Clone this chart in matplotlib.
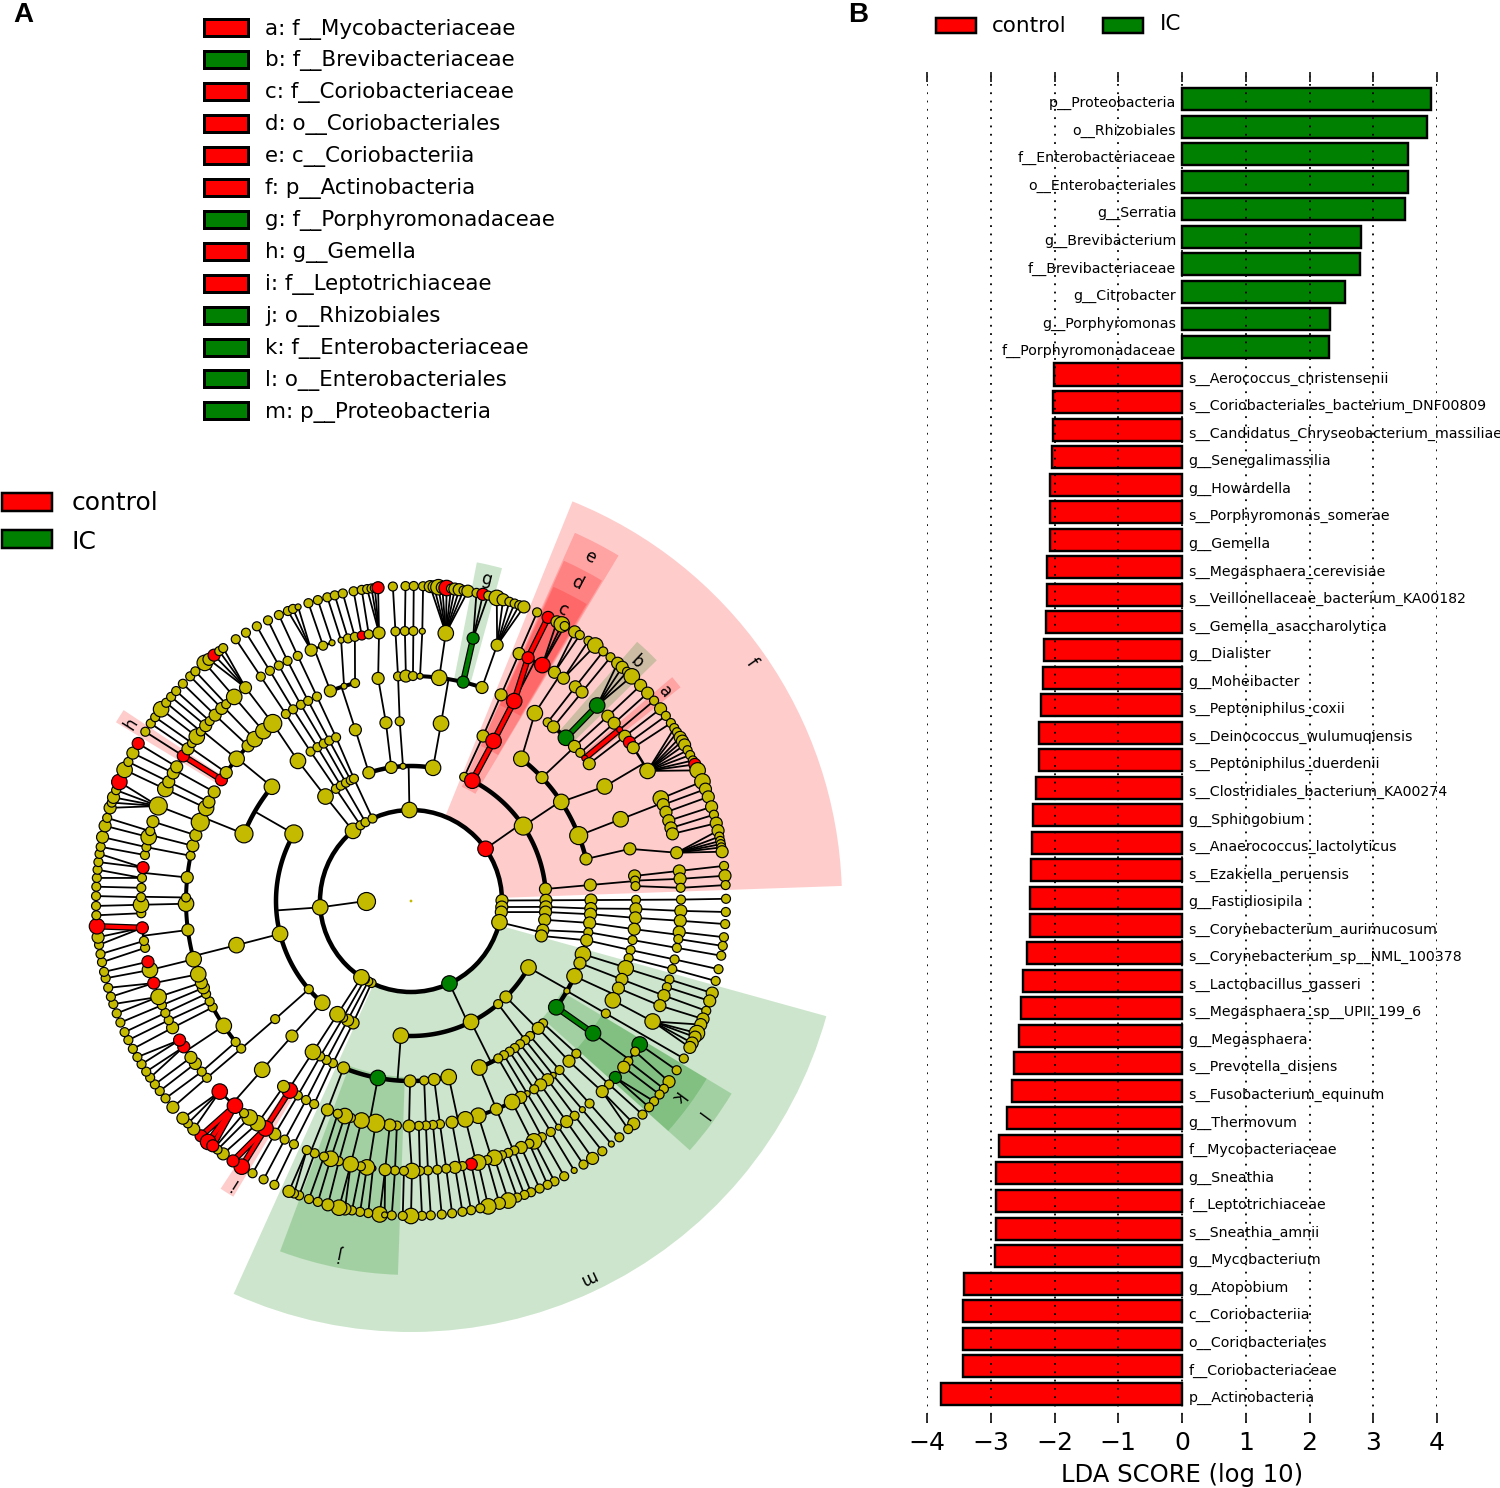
import numpy as np
import matplotlib
matplotlib.use("Agg")
import matplotlib.pyplot as plt
from matplotlib.patches import Wedge, Rectangle, Circle

RED = "#ff0000"
GREEN = "#008000"
OLIVE = "#c4ba00"

# ---- LDA bars, top to bottom
bar_names = ["p__Proteobacteria", "o__Rhizobiales", "f__Enterobacteriaceae", "o__Enterobacteriales", "g__Serratia",
             "g__Brevibacterium", "f__Brevibacteriaceae", "g__Citrobacter", "g__Porphyromonas", "f__Porphyromonadaceae",
             "s__Aerococcus_christensenii", "s__Coriobacteriales_bacterium_DNF00809",
             "s__Candidatus_Chryseobacterium_massiliae", "g__Senegalimassilia", "g__Howardella",
             "s__Porphyromonas_somerae", "g__Gemella", "s__Megasphaera_cerevisiae",
             "s__Veillonellaceae_bacterium_KA00182", "s__Gemella_asaccharolytica", "g__Dialister", "g__Moheibacter",
             "s__Peptoniphilus_coxii", "s__Deinococcus_wulumuqiensis", "s__Peptoniphilus_duerdenii",
             "s__Clostridiales_bacterium_KA00274", "g__Sphingobium", "s__Anaerococcus_lactolyticus",
             "s__Ezakiella_peruensis", "g__Fastidiosipila", "s__Corynebacterium_aurimucosum",
             "s__Corynebacterium_sp__NML_100378", "s__Lactobacillus_gasseri", "s__Megasphaera_sp__UPII_199_6",
             "g__Megasphaera", "s__Prevotella_disiens", "s__Fusobacterium_equinum", "g__Thermovum",
             "f__Mycobacteriaceae", "g__Sneathia", "f__Leptotrichiaceae", "s__Sneathia_amnii", "g__Mycobacterium",
             "g__Atopobium", "c__Coriobacteriia", "o__Coriobacteriales", "f__Coriobacteriaceae", "p__Actinobacteria"]
bar_scores = [3.91, 3.84, 3.55, 3.55, 3.50, 2.81, 2.79, 2.56, 2.32, 2.31,
              -2.01, -2.02, -2.02, -2.04, -2.07, -2.07, -2.07, -2.12, -2.12, -2.13,
              -2.16, -2.18, -2.21, -2.24, -2.24, -2.29, -2.34, -2.35, -2.37, -2.38,
              -2.38, -2.43, -2.49, -2.53, -2.56, -2.64, -2.67, -2.75, -2.87, -2.92,
              -2.92, -2.92, -2.93, -3.42, -3.44, -3.44, -3.44, -3.78]

# ---- cladogram key
key_names = ["a: f__Mycobacteriaceae", "b: f__Brevibacteriaceae", "c: f__Coriobacteriaceae", "d: o__Coriobacteriales",
             "e: c__Coriobacteriia", "f: p__Actinobacteria", "g: f__Porphyromonadaceae", "h: g__Gemella",
             "i: f__Leptotrichiaceae", "j: o__Rhizobiales", "k: f__Enterobacteriaceae", "l: o__Enterobacteriales",
             "m: p__Proteobacteria"]
key_groups = "rgrrrrgrrgggg"

# clade shading: letter, angle from, angle to, inner level radius, outer radius, letter radius, group
shades = [("f", 2, 68, 91, 431, 416, "r"), ("e", 59, 66, 125, 403, 388, "r"), ("d", 59.2, 65.8, 170, 373, 359, "r"),
          ("c", 59.4, 65.6, 215, 345, 329, "r"), ("b", 44.4, 48.9, 222, 344, 329, "g"), ("a", 38.4, 40.6, 222, 344, 329, "r"),
          ("g", 74.7, 79, 226, 345, 330, "g"), ("h", 146.4, 148.8, 224, 345, 331, "r"), ("i", 236.5, 239, 224, 345, 333, "r"),
          ("j", -110.5, -92, 176, 374, 359, "g"), ("k", -41.8, -31, 222, 345, 330, "g"), ("l", -41.8, -31, 176, 374, 360, "g"),
          ("m", -114.3, -15.5, 91, 431, 416, "g")]

# clade tree, depth first: (level, angle deg, abundance class[, group])
# level 1 phylum ... level 6 species; parent = last row with a lower level
# r/g enriched node, R/G same colour but not joined to its parent by a coloured branch
top_phylum = [
    (1, 91, 4),
    (2, 108.2, 3), (3, 108, 3),
    (4, 111, 3), (5, 111.7, 3), (6, 113, 2), (6, 112, 2), (6, 111, 1),
    (5, 109, 2), (6, 109, 2), (5, 107, 1), (6, 107.2, 2),
    (4, 107.3, 1), (5, 105, 1), (6, 105.4, 2), (5, 103.5, 2), (6, 104, 2),
    (4, 104.4, 2), (5, 102, 2), (6, 102.5, 2), (5, 100.5, 2, "r"), (6, 100.5, 2), (5, 99, 2), (6, 99, 2),
    (2, 98.4, 3), (3, 98, 3), (4, 98.4, 3), (5, 96.8, 3),
    (6, 98, 2), (6, 97.2, 2), (6, 96.6, 2), (6, 96, 3, "r"),
    (2, 93.4, 1), (3, 93.6, 2), (4, 93.3, 2), (5, 93.3, 2), (6, 93.3, 2),
    (2, 80.6, 4), (3, 80.4, 4),
    (4, 91.3, 3), (5, 91.3, 2), (6, 91, 2),
    (4, 89.5, 2), (5, 89.5, 2), (6, 89.5, 2),
    (4, 87.7, 1), (5, 87.6, 1), (6, 87.8, 2),
    (4, 82.8, 4), (5, 82.6, 4),
    (6, 86.5, 3), (6, 85.8, 3), (6, 85, 4), (6, 84.3, 3), (6, 83.5, 4, "r"), (6, 82.7, 2), (6, 82, 3), (6, 81.2, 3), (6, 80.4, 2), (6, 79.6, 3),
    (4, 76.6, 3, "g"), (5, 76.7, 3, "g"), (6, 78, 2), (6, 76.8, 3, "r"), (6, 75.8, 2),
    (4, 71.6, 3), (5, 71.4, 3),
    (6, 74.2, 4), (6, 73, 3), (6, 71.8, 2), (6, 70.8, 2), (6, 69.9, 2), (6, 69, 3),
]
actino_phylum = [
    (1, 35, 4, "R"),
    (2, 66.8, 2), (3, 66.4, 3), (4, 66.4, 3), (5, 66.4, 3), (6, 66.4, 2),
    (2, 63, 4, "r"), (3, 62.7, 4, "r"), (4, 62.7, 4, "r"),
    (5, 64.3, 3, "r"), (6, 64.2, 3, "r"),
    (5, 60.9, 4, "R"), (6, 62.4, 3), (6, 61.4, 4), (6, 60.8, 2),
    (2, 33.7, 5),
    (3, 52.2, 4), (4, 56.6, 4),
    (5, 57.9, 3), (6, 58.7, 3), (6, 57.6, 2),
    (5, 55.6, 3), (6, 55.7, 2), (6, 54.2, 4),
    (3, 43.3, 3),
    (4, 52.6, 2), (5, 52.5, 3), (6, 52.4, 2),
    (4, 50.7, 3), (5, 50.7, 3), (6, 50.7, 2),
    (4, 46.5, 4, "g"), (5, 46.4, 4, "g"), (6, 49, 3), (6, 47.9, 3), (6, 46.7, 2), (6, 45.5, 4),
    (4, 43.4, 3), (5, 43.2, 3), (6, 43.2, 3),
    (4, 41.2, 2), (5, 41.2, 3), (6, 41.3, 3),
    (4, 39.4, 1, "r"), (5, 39.4, 1, "r"), (6, 39.5, 2),
    (4, 37.6, 3), (5, 37.6, 3), (6, 37.6, 3),
    (3, 33.4, 4), (4, 30.6, 4),
    (5, 36, 3, "r"), (6, 36, 2),
    (5, 34.6, 3), (6, 34.4, 2),
    (5, 28.8, 4),
    (6, 33.3, 2), (6, 32.4, 2), (6, 31.3, 3), (6, 30.5, 3), (6, 29.7, 3), (6, 28.6, 2), (6, 27.6, 2), (6, 26.5, 2), (6, 25.7, 3, "r"), (6, 24.5, 4),
    (3, 21.3, 5), (4, 21.3, 4),
    (5, 22.3, 4), (6, 22.3, 4), (5, 20.9, 3), (6, 20.8, 3), (5, 19.2, 3), (6, 19.3, 3),
    (5, 17.3, 3), (6, 17.4, 3), (5, 15.7, 3), (6, 15.9, 2), (5, 14.4, 3), (6, 14.3, 3),
    (3, 13.5, 3), (4, 13.4, 3), (5, 10.3, 3),
    (6, 12.9, 3), (6, 11.8, 2), (6, 11, 2), (6, 10.4, 2), (6, 9.8, 2), (6, 9, 3),
    (2, 5.1, 3), (3, 5.1, 3),
    (4, 6.4, 3), (5, 6.4, 3), (6, 6.4, 2),
    (4, 5.2, 2), (5, 4.7, 3), (6, 4.6, 3),
    (4, 3.8, 2), (5, 2.8, 2), (6, 2.9, 2),
]
small_phyla = [
    (1, 0.3, 3), (2, 0.3, 3), (3, 0.3, 3), (4, 0.3, 2), (5, 0.3, 2), (6, 0.4, 2),
    (1, -3.8, 3), (2, -2.5, 3), (3, -2.4, 3), (4, -2, 3), (5, -2.1, 3), (6, -2, 2),
    (1, -7, 3), (2, -4.7, 3), (3, -4.2, 3), (4, -4.3, 3), (5, -4.2, 3), (6, -4.2, 2),
    (1, -13.5, 4),
    (2, -8, 3), (3, -7, 3), (4, -7.2, 3), (5, -6.6, 3), (6, -6.6, 2), (5, -8.1, 2), (6, -8.2, 2),
    (2, -12.5, 3), (3, -10, 2), (4, -10, 2), (5, -10, 2), (6, -10, 2),
    (2, -15, 3), (3, -12.6, 3), (4, -12.6, 2), (5, -12.5, 2), (6, -12.5, 2),
]
proteo_phylum = [
    (1, -65, 4, "g"),
    (2, -29.5, 4),
    (3, -17.2, 4),
    (4, -14.7, 2), (5, -14.6, 2), (6, -14.7, 2),
    (4, -17.4, 4), (5, -16.9, 2), (6, -17, 3), (5, -18.6, 2), (6, -18.5, 3),
    (3, -20.2, 3), (4, -20.4, 3), (5, -20.5, 3), (6, -20.4, 2),
    (3, -24.7, 4),
    (4, -22.8, 3), (5, -22.8, 3), (6, -22, 3),
    (4, -26.2, 4), (5, -26.5, 4), (6, -23.1, 3), (6, -24.8, 4), (6, -25.6, 3), (6, -26.8, 3), (6, -27.7, 3),
    (3, -30, 1), (4, -30, 2), (6, -30, 2),
    (3, -36.2, 4, "g"), (4, -36, 4, "g"),
    (5, -32.1, 4, "G"), (6, -32.5, 2),
    (5, -33.9, 2), (6, -35, 3),
    (5, -36.4, 2), (6, -36.6, 2),
    (5, -38, 3), (6, -37.9, 2),
    (5, -40.8, 3, "G"), (6, -39.5, 2), (6, -40.9, 2),
    (2, -45.3, 3),
    (3, -42.8, 2), (4, -42.7, 2), (5, -42.8, 2), (6, -42.7, 2),
    (3, -45, 3), (4, -45.4, 3), (5, -44.9, 3), (6, -45, 3), (6, -46.4, 2),
    (3, -48.6, 2), (4, -48.7, 2), (5, -48.6, 2), (6, -48.6, 2),
    (2, -49.8, 2),
    (3, -50.6, 2), (4, -50.8, 1), (5, -50.6, 1), (6, -50.5, 1),
    (3, -52.7, 2), (4, -52.6, 3), (5, -52.7, 2), (6, -52.6, 2),
    (3, -54.8, 2), (4, -54.8, 3), (5, -54.8, 3), (6, -54.8, 3),
    (3, -56.8, 2), (4, -56.8, 2), (5, -56.9, 1), (6, -56.8, 2),
    (3, -58.9, 2), (4, -58.9, 1), (5, -58.8, 2), (6, -58.8, 1),
    (2, -63.6, 4),
    (3, -61, 2), (4, -60.8, 3), (5, -61, 2), (6, -60.9, 2),
    (3, -67.7, 4),
    (4, -63.3, 4), (5, -62.9, 4), (6, -62.9, 2), (5, -64, 2), (6, -64.3, 2), (5, -65.9, 3), (6, -65.9, 2),
    (4, -67.7, 3), (5, -67.5, 2), (6, -67.6, 2), (5, -68.9, 2), (6, -68.9, 2), (5, -70.3, 2), (6, -70.3, 2),
    (4, -72.6, 4), (5, -72, 4), (6, -72, 4), (5, -73.6, 2), (6, -73.7, 3),
    (2, -94.3, 4),
    (3, -77.9, 4),
    (4, -76, 4), (5, -75.6, 4), (6, -75.8, 4), (5, -77.1, 3, "r"), (6, -77.3, 2),
    (4, -79.5, 3), (5, -79, 2), (6, -79, 2), (5, -80.6, 3), (6, -80.6, 2),
    (3, -82.6, 3),
    (4, -82.6, 2), (5, -82.5, 2), (6, -82.5, 2),
    (4, -84.4, 2), (5, -84.4, 2), (6, -84.4, 2),
    (3, -85.8, 2),
    (4, -86.2, 2), (5, -86.4, 2), (6, -86.4, 2),
    (4, -88, 2), (5, -88.1, 2), (6, -88, 2),
    (3, -90.3, 3), (4, -90.5, 3), (5, -89.8, 4), (6, -90, 4),
    (3, -100.6, 4, "g"),
    (4, -93.6, 2), (5, -91.5, 2), (6, -91.5, 2), (5, -93.4, 2), (6, -93.5, 2),
    (4, -95.4, 3), (5, -95.5, 3), (6, -95.7, 4), (6, -94.8, 1),
    (4, -99, 5), (5, -98.1, 1, "r"), (6, -97.8, 2), (5, -99.4, 4), (6, -99.3, 2), (5, -100.7, 2), (6, -100.8, 2),
    (4, -102.7, 4), (5, -102.9, 4), (6, -102.1, 3), (6, -103.2, 4),
    (4, -105.5, 2), (5, -105.5, 2), (6, -105.3, 3),
    (4, -107.1, 4), (5, -107.3, 4), (6, -107.2, 2),
    (4, -109, 2), (5, -108.8, 2), (6, -108.9, 2),
    (3, -112, 3), (4, -111.8, 3),
    (5, -110.9, 2), (6, -110.8, 2), (5, -112.7, 2), (6, -111.8, 2), (6, -112.8, 3),
]
low_left_phyla = [
    (1, 244.3, 2), (2, 244.6, 3), (3, 244.3, 2), (4, 244.5, 2), (5, 244.3, 2), (6, 244.3, 2),
    (1, 242, 2), (2, 242, 3), (3, 242, 2), (4, 242.2, 2), (5, 242.1, 2), (6, 242.1, 2),
    (1, 239.5, 2), (2, 239.8, 2), (3, 239.7, 2), (4, 239.8, 2), (5, 239.7, 3), (6, 239.8, 2),
    (1, 237, 4), (2, 237, 4), (3, 237, 4),
    (4, 237.4, 4, "r"), (5, 237.4, 4, "r"), (6, 237.5, 4, "r"), (6, 235.6, 3, "r"),
    (4, 235.5, 3), (5, 235.4, 4), (6, 233.4, 3), (5, 233.3, 4), (6, 232.1, 2), (5, 231.8, 2), (6, 231.5, 1),
]
left_phylum = [
    (1, 184, 4),
    (2, 228.9, 4), (3, 228.6, 3), (4, 228.6, 4),
    (5, 229.3, 4, "r"), (6, 228.2, 3, "r"), (6, 229.9, 4, "r"), (6, 231, 3, "r"),
    (5, 224.9, 4, "r"), (6, 226.4, 3), (6, 224.9, 2), (6, 223.6, 3),
    (2, 220.8, 2), (3, 221, 2), (4, 221, 2), (5, 220.9, 2), (6, 220.9, 3),
    (2, 194.1, 4), (3, 194.2, 4),
    (4, 218.8, 2), (5, 219.2, 2), (6, 218.8, 2),
    (4, 213.7, 4),
    (5, 217, 3), (6, 217.1, 2),
    (5, 215.4, 3), (6, 215.6, 2),
    (5, 212.7, 3, "r"), (6, 214.1, 2), (6, 212.8, 2),
    (5, 211, 3, "r"), (6, 211.2, 2), (6, 209.7, 2),
    (4, 208.2, 2), (5, 208, 3), (6, 208, 2),
    (4, 206.5, 2), (5, 206.2, 2), (6, 206.2, 2),
    (4, 204.4, 2), (5, 204.5, 2), (6, 204.6, 2),
    (4, 202.7, 3), (5, 202.7, 2), (6, 202.7, 2),
    (4, 201.3, 3), (5, 200.8, 4), (6, 200.9, 2), (6, 199.1, 2),
    (4, 199, 4), (5, 197.7, 3, "r"), (6, 197.7, 2), (6, 196, 2),
    (4, 195, 4), (5, 194.8, 4), (6, 194.2, 2), (5, 193, 3, "r"), (6, 193, 2),
    (4, 187.4, 3),
    (5, 190, 2), (6, 191.2, 2), (5, 188.5, 2), (6, 189.7, 2),
    (5, 185.7, 3, "r"), (6, 188, 2), (6, 186.6, 3), (6, 184.6, 4, "r"),
    (4, 180.7, 4), (5, 182.6, 2), (6, 182.6, 2), (5, 180.8, 4), (6, 180.9, 2),
    (4, 179.1, 2), (5, 179.2, 2), (6, 179.1, 2), (5, 177.2, 2), (6, 177.4, 2),
    (4, 174, 3), (5, 175.1, 2), (6, 175.8, 2), (6, 174.3, 2), (5, 172.9, 3, "r"), (6, 172.9, 2), (6, 171.4, 2),
    (4, 168.4, 2), (5, 170.2, 2), (6, 170.1, 2), (5, 168.5, 2), (6, 168.3, 3),
    (4, 165.8, 3), (5, 166.3, 4), (6, 166.2, 3), (5, 165, 2), (6, 164.7, 2),
    (4, 163, 3), (5, 162.9, 3),
    (2, 150.2, 5),
    (3, 158.1, 5),
    (4, 159.5, 5), (5, 159.4, 5), (6, 162.8, 3), (6, 161.8, 2), (6, 160.8, 3), (6, 159.4, 2), (6, 157.8, 4, "r"),
    (4, 155.6, 4), (5, 155.5, 4), (6, 155.4, 4),
    (4, 153.9, 3), (5, 153.8, 3), (6, 153.8, 2),
    (4, 151, 3), (5, 151.7, 3), (6, 152, 3), (5, 150.2, 3), (6, 150, 3, "r"),
    (3, 140.6, 4),
    (4, 147.4, 3, "r"), (5, 147.5, 3, "r"), (6, 147.5, 2),
    (4, 145.2, 3), (5, 145.7, 3), (6, 145.7, 2), (5, 144.2, 2), (6, 144.3, 2),
    (4, 140.8, 4), (5, 142.5, 4), (6, 142.5, 4), (5, 141.1, 2), (6, 141, 2), (5, 139.5, 3), (6, 139.6, 2), (5, 138.2, 2), (6, 138.2, 2),
    (4, 136.4, 3), (5, 136.5, 3), (6, 136.4, 2),
    (4, 134, 4), (5, 134.5, 3), (6, 134.5, 2), (5, 133.2, 2), (6, 133.2, 2),
    (4, 131, 4), (5, 130.9, 4), (6, 130.9, 4),
]
upper_left_phyla = [
    (1, 129.6, 4), (2, 129.3, 4), (3, 128.9, 4), (4, 127.9, 5), (5, 127.8, 3),
    (6, 129.9, 3), (6, 128.7, 3, "r"), (6, 127.5, 2), (6, 126.6, 2),
    (1, 123.7, 2), (2, 123.8, 2), (3, 123.9, 2), (4, 123.8, 2), (5, 123.8, 2), (6, 123.8, 2),
    (1, 120, 2),
    (2, 121.3, 2), (3, 121.3, 2), (4, 121.6, 2), (5, 121.5, 2), (6, 121.6, 2),
    (2, 118.8, 2), (3, 119, 2), (4, 119.3, 2), (5, 119.3, 2), (6, 119.3, 2),
    (1, 115, 2),
    (2, 116.5, 2), (3, 117, 2), (4, 117.2, 2), (5, 117.2, 2), (6, 117, 2),
    (2, 115, 2), (3, 114.6, 2), (4, 114.7, 2), (5, 114.8, 2), (6, 114.8, 2),
]
all_clades = [top_phylum, actino_phylum, small_phyla, proteo_phylum, low_left_phyla, left_phylum, upper_left_phyla]

level_r = {1: 91, 2: 135, 3: 180, 4: 225, 5: 270, 6: 315}
node_px = {1: 6, 2: 9, 3: 12, 4: 15.5, 5: 18}
arc_px = {2: 4.5, 3: 4.5, 4: 4, 5: 2.5}
group_col = {"r": RED, "R": RED, "g": GREEN, "G": GREEN, "y": OLIVE}

W, H = 1500, 1488
px = 0.72  # points per pixel at dpi 100


def xy(r, a):
    t = np.radians(a)
    return r * np.cos(t), r * np.sin(t)


fig = plt.figure(figsize=(W / 100, H / 100), dpi=100)

# cladogram axes, 1 unit = 1 pixel, origin at tree centre
cx, cy = 411, 901
ax = fig.add_axes([0, 0, 1, 1])
ax.set_xlim(-cx, W - cx)
ax.set_ylim(-(H - cy), cy)
ax.axis("off")

for name, a0, a1, r0, r1, rt, grp in shades:
    ax.add_patch(Wedge((0, 0), r1, a0, a1, width=r1 - r0, fc=group_col[grp], ec="none", alpha=0.2, zorder=1))
    tx, ty = xy(rt, (a0 + a1) / 2)
    ax.text(tx, ty, name, fontsize=12, rotation=(a0 + a1) / 2 - 90, ha="center", va="center", zorder=6)

ax.add_patch(Circle((0, 0), 91, fc="none", ec="k", lw=4.5 * px, zorder=3))
ax.plot(*zip(xy(45, 180), xy(91, 184)), color="k", lw=1.8 * px, zorder=3)

# flatten the rows, keep parent links
nodes = []
for rows in all_clades:
    stack = []
    for row in rows:
        lev, ang, ab = row[:3]
        grp = row[3] if len(row) > 3 else "y"
        while stack and nodes[stack[-1]]["lev"] >= lev:
            stack.pop()
        parent = stack[-1] if stack else None
        nodes.append({"lev": lev, "ang": ang, "ab": ab, "grp": grp, "par": parent, "kids": []})
        if parent is not None:
            nodes[parent]["kids"].append(len(nodes) - 1)
        stack.append(len(nodes) - 1)

for n in nodes:
    if not n["kids"]:
        continue
    rp = level_r[n["lev"]]
    start = xy(rp, n["ang"])
    inner = [nodes[k] for k in n["kids"] if nodes[k]["lev"] < 6 and nodes[k]["lev"] == n["lev"] + 1]
    for k in n["kids"]:
        c = nodes[k]
        end = xy(level_r[c["lev"]], c["ang"])
        if c["grp"] in "rg" and c["grp"] == n["grp"]:
            ax.plot(*zip(start, end), color="k", lw=6.5 * px, zorder=3.2, solid_capstyle="butt")
            ax.plot(*zip(start, end), color=group_col[c["grp"]], lw=4 * px, zorder=3.3, solid_capstyle="butt")
        elif c["lev"] == 6 or len(inner) < 2:
            ax.plot(*zip(start, end), color="k", lw=1.8 * px, zorder=3)
    if len(inner) >= 2:
        lev = inner[0]["lev"]
        angs = [c["ang"] for c in inner]
        lo, hi = min(angs), max(angs)
        t = np.linspace(lo, hi, 60)
        ax.plot(*xy(level_r[lev], t), color="k", lw=arc_px[lev] * px, zorder=3, solid_capstyle="butt")
        stem = min(max(n["ang"], lo), hi)
        ax.plot(*zip(start, xy(level_r[lev], stem)), color="k", lw=1.8 * px, zorder=3)

nx, ny = xy(np.array([level_r[n["lev"]] for n in nodes]), np.array([n["ang"] for n in nodes]))
ax.scatter(nx, ny, s=[(node_px[n["ab"]] * px) ** 2 for n in nodes], c=[group_col[n["grp"]] for n in nodes],
           edgecolors="k", linewidths=0.85, zorder=4)
kx, ky = xy(45, 180)
ax.scatter([kx], [ky], s=(18 * px) ** 2, c=OLIVE, edgecolors="k", linewidths=0.85, zorder=4)
ax.scatter([0], [0], s=4, c=OLIVE, edgecolors="none", zorder=4)

# legends and panel letters in pixel coordinates
lx = fig.add_axes([0, 0, 1, 1])
lx.set_xlim(0, W)
lx.set_ylim(H, 0)
lx.axis("off")
lx.patch.set_alpha(0)

for i, (name, grp) in enumerate(zip(key_names, key_groups)):
    y = 27 + 31.95 * i
    lx.add_patch(Rectangle((204, y - 8), 44, 17, fc=group_col[grp], ec="k", lw=3 * px))
    lx.text(265, y + 2, name, fontsize=15.4, va="center", ha="left")

for y, ty, grp, name in [(502, 503, "r", "control"), (539, 542, "g", "IC")]:
    lx.add_patch(Rectangle((2, y - 9), 50, 18, fc=group_col[grp], ec="k", lw=2.5 * px))
    lx.text(72, ty, name, fontsize=18, va="center", ha="left")

lx.add_patch(Rectangle((936, 18), 40, 15, fc=RED, ec="k", lw=2.5 * px))
lx.text(992, 26, "control", fontsize=15.5, va="center", ha="left")
lx.add_patch(Rectangle((1103, 18), 40, 15, fc=GREEN, ec="k", lw=2.5 * px))
lx.text(1160, 24, "IC", fontsize=15.5, va="center", ha="left")

lx.text(13, 15, "A", fontsize=20, fontweight="bold", family="Liberation Sans", va="center", ha="left")
lx.text(848, 15, "B", fontsize=20, fontweight="bold", family="Liberation Sans", va="center", ha="left")

# LDA bars
top_px, bot_px = 72, 1423
bx = fig.add_axes([927 / W, 1 - bot_px / H, (1437 - 927) / W, (bot_px - top_px) / H])
bx.patch.set_alpha(0)
ypos = np.arange(len(bar_scores))
cols = [GREEN if v > 0 else RED for v in bar_scores]
bx.barh(ypos, bar_scores, height=0.8, color=cols, edgecolor="k", linewidth=2.4 * px, zorder=2)
bx.set_xlim(-4, 4)
bx.set_ylim((1423 - 99) / 27.55, (72 - 99) / 27.55)
for s in bx.spines.values():
    s.set_visible(False)
bx.set_yticks([])
bx.set_xticks(np.arange(-4, 5))
bx.tick_params(axis="x", direction="in", top=True, length=7.5, width=1.3, labelsize=18, pad=5.5, color="#222222")
bx.set_xticklabels(["\u2212%d" % -v if v < 0 else str(v) for v in range(-4, 5)])
bx.xaxis.grid(True, linestyle=(0, (1, 3.6)), color="k", linewidth=1.3, zorder=3)
bx.set_axisbelow(False)
for y, name, v in zip(ypos, bar_names, bar_scores):
    if v > 0:
        bx.text(-0.09, y + 0.15, name, fontsize=10.2, ha="right", va="center", zorder=5)
    else:
        bx.text(0.1, y + 0.15, name, fontsize=10.2, ha="left", va="center", zorder=5)
bx.set_xlabel("LDA SCORE (log 10)", fontsize=17.5, labelpad=6)

fig.savefig("out.png", dpi=100)
